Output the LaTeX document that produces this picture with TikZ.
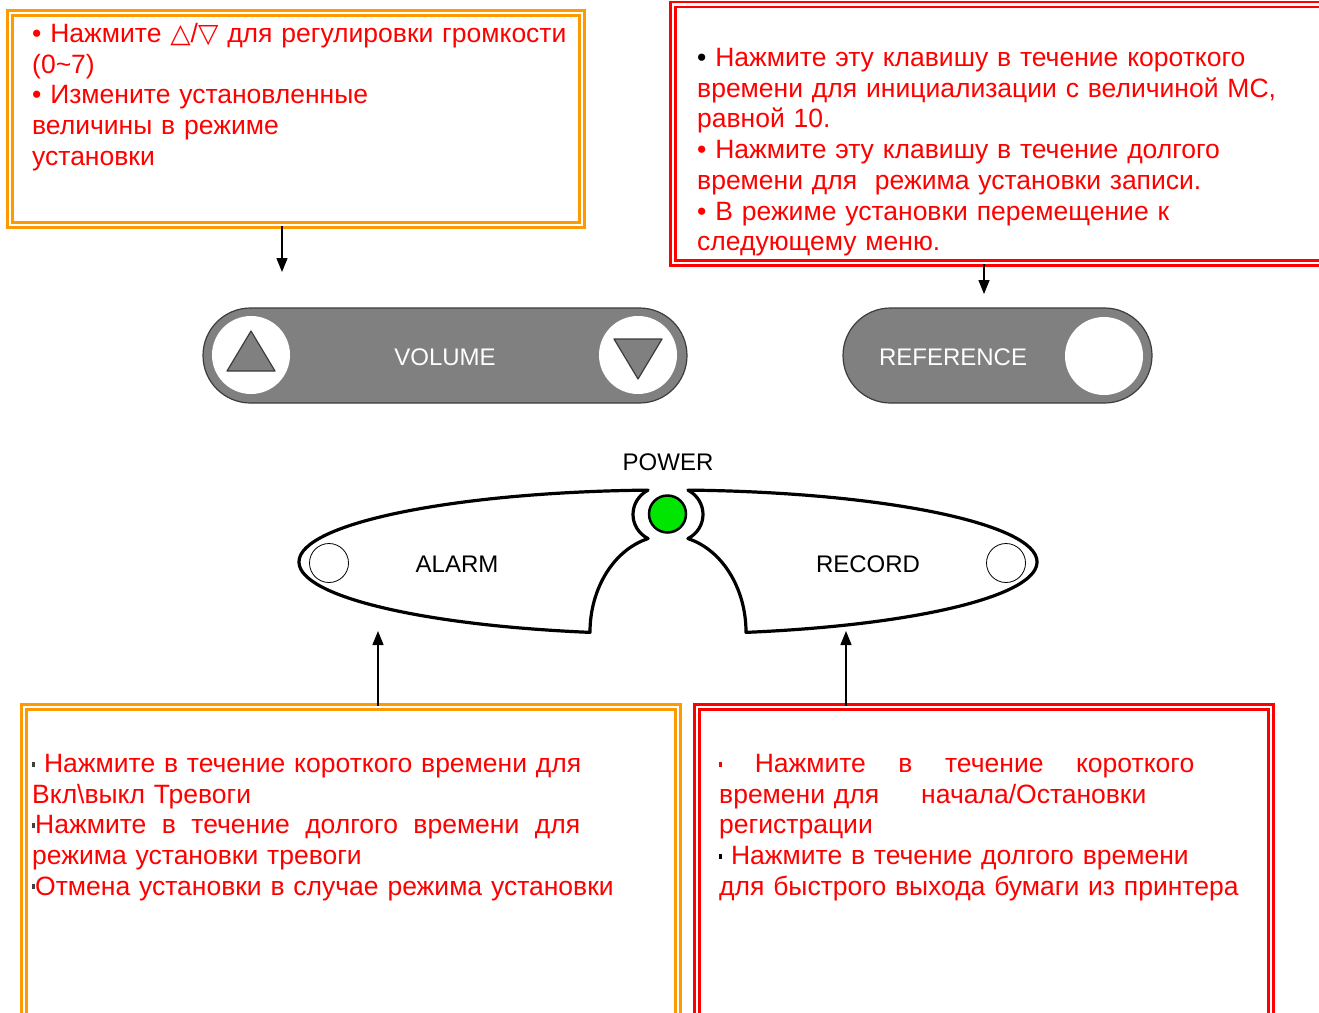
\documentclass[tikz,border=0pt]{standalone}
\usepackage{fontspec}
\setmainfont{Liberation Sans}
\newfontfamily\trifont{DejaVu Sans}
\usetikzlibrary{positioning,shapes.misc,arrows.meta}
\definecolor{notered}{RGB}{255,0,0}
\definecolor{noteorange}{RGB}{255,153,0}
\definecolor{keygray}{RGB}{128,128,128}
\definecolor{keyedge}{RGB}{60,60,60}
\definecolor{ledgreen}{RGB}{0,230,0}
\newcommand{\sqbul}[1]{\textcolor{#1}{\rule[6pt]{3pt}{5pt}}}
\newcommand{\fullline}[2]{\makebox[#1][s]{\spaceskip=.2777em plus 10em #2}}

\begin{document}
\begin{tikzpicture}[x=1pt, y=-1pt,
						obox/.style={rectangle, draw=noteorange, double=white, double distance=2.5pt, line width=2.5pt, inner sep=0pt},
						rbox/.style={rectangle, draw=notered, double=white, double distance=2.5pt, line width=2.5pt, inner sep=0pt},
						note/.style={text=notered, font=\fontsize{26.5}{30.7}\selectfont, text width=650pt, align=left, anchor=base west, inner sep=0pt},
						pill/.style={rounded rectangle, fill=keygray, draw=keyedge, line width=1.2pt, minimum height=95pt, inner sep=0pt},
						keyhole/.style={circle, fill=white, minimum size=78pt, inner sep=0pt},
						tri/.style={fill=keygray, draw=keyedge, line width=1.2pt, line join=round},
						keytext/.style={font=\fontsize{24}{24}\selectfont, inner sep=0pt},
						shell/.style={draw=black, fill=white, line width=3.2pt, line join=round},
						lamp/.style={circle, draw=black, fill=white, line width=0.8pt, minimum size=39pt, inner sep=0pt},
						led/.style={circle, draw=black, fill=ledgreen, line width=2.5pt, minimum size=37pt, inner sep=0pt}
					]
					\useasboundingbox (0,0) rectangle (1319,1012);
					\clip (0,0) rectangle (1319,1012);
					\node[obox, minimum width=572pt, minimum height=212pt] (volnote) at (296,119) {};
					\node[rbox, minimum width=657pt, minimum height=258.5pt] (refnote) at (1001.5,133.75) {};
					\node[obox, minimum width=654pt, minimum height=323pt] (alarmnote) at (351,868.5) {};
					\node[rbox, minimum width=574pt, minimum height=323pt] (recnote) at (984,868.5) {};
					\node[note] (voltext) at (32,42.5) {%
						• Нажмите {\trifont △}/{\trifont ▽} для регулировки громкости\\
						(0\textasciitilde7)\\
						• Измените установленные\\
						величины в режиме\\
						установки};
					\node[note] (reftext) at (697,66.5) {%
						{\color{black}•} Нажмите эту клавишу в течение короткого\\
						времени для инициализации с величиной МС,\\
						равной 10.\\
						• Нажмите эту клавишу в течение долгого\\
						времени для\ \ режима установки записи.\\
						• В режиме установки перемещение к\\
						следующему меню.};
					\node[note] (alarmtext) at (32,772.5) {%
						\sqbul{darkgray}\ Нажмите в течение короткого времени для\\
						Вкл\textbackslash выкл Тревоги\\
						\fullline{548pt}{\sqbul{darkgray}Нажмите в течение долгого времени для}\\
						режима установки тревоги\\
						\sqbul{darkgray}Отмена установки в случае режима установки};
					\node[note] (rectext) at (719,772.5) {%
						\fullline{475pt}{\sqbul{notered} Нажмите в течение короткого}\\
						времени для\hspace{42pt}начала/Остановки\\
						регистрации\\
						\sqbul{black} Нажмите в течение долгого времени\\
						для быстрого выхода бумаги из принтера};
					\node[pill, minimum width=484pt] (volume) at (445,355.5) {};
					\node[keytext, text=white] (vollabel) at (445,357) {VOLUME};
					\node[keyhole] (volup) at (251,355) {};
					\node[keyhole] (voldown) at (638,355) {};
					\draw[tri] (227,371) -- (275,371) -- (251,331) -- cycle;
					\draw[tri] (614,339) -- (662,339) -- (638,379) -- cycle;
					\node[pill, minimum width=309pt] (reference) at (997.5,355.5) {};
					\node[keytext, text=white] (reflabel) at (953,357) {REFERENCE};
					\node[keyhole] (refkey) at (1104,356) {};
					\draw[shell] (648,490.1) arc[start angle=266.9, end angle=102.2, x radius=369, y radius=72]
						arc[start angle=180, end angle=255.2, x radius=78, y radius=97]
						.. controls (628,528) and (628,501) .. cycle;
					\draw[shell] (688,490.1) arc[start angle=-86.9, end angle=77.8, x radius=369, y radius=72]
						arc[start angle=0, end angle=-75.2, x radius=78, y radius=97]
						.. controls (708,528) and (708,501) .. cycle;
					\node[led] (power) at (667.5,514) {};
					\node[keytext] (powerlabel) at (668,462) {POWER};
					\node[lamp] (alarmlamp) at (329,563) {};
					\node[lamp] (reclamp) at (1006,563) {};
					\node[keytext] (alarm) at (457,564) {ALARM};
					\node[keytext] (record) at (868,564) {RECORD};
					\coordinate (volin) at (282,272);
					\coordinate (refin) at (984,294);
					\coordinate (alarmin) at (378,631);
					\coordinate (recin) at (846,631);
					\begin{scope}[line width=1.4pt, -{Triangle[length=14pt, width=11pt]}]
					\draw (volnote.south -| volin) -- (volin);
					\draw (refnote.south -| refin) -- (refin);
					\draw (alarmnote.north -| alarmin) -- (alarmin);
					\draw (recnote.north -| recin) -- (recin);
					\end{scope}
					\end{tikzpicture}
\end{document}
